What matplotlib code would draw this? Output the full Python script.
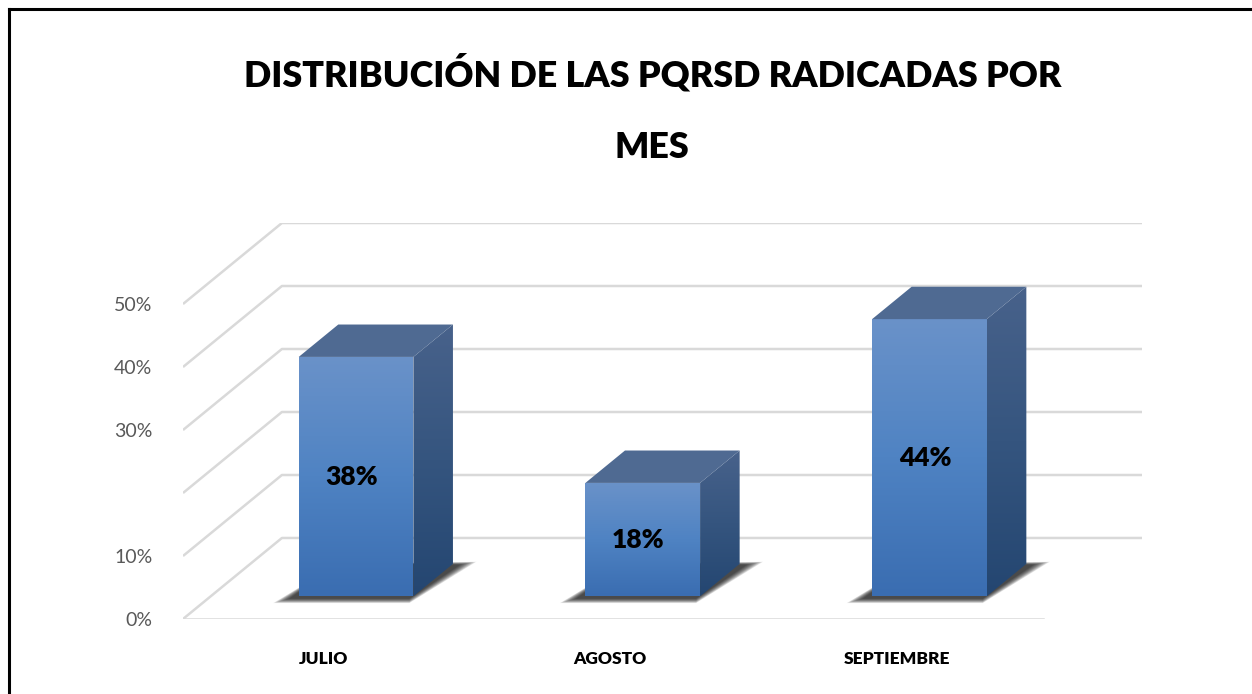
import matplotlib.pyplot as plt
import numpy as np
from matplotlib.patches import Polygon
from matplotlib.colors import LinearSegmentedColormap
from matplotlib.lines import Line2D

# datos del gráfico
categorias = ['JULIO', 'AGOSTO', 'SEPTIEMBRE']
valores = [38, 18, 44]
etiquetas = ['38%', '18%', '44%']
ticks_y = [0, 10, 20, 30, 40, 50]
ticks_y_txt = ['0%', '10%', '', '30%', '40%', '50%']

# perspectiva "3D" simulada (profundidad en unidades de datos)
DX = 0.345   # desplazamiento horizontal del fondo (en categorías)
DY = 12.86   # desplazamiento vertical del fondo (en %)
ANCHO = 0.40
D0, D1 = 0.28, 0.68   # profundidad de la cara frontal y trasera de la barra

plt.rcParams['font.family'] = ['Lato', 'DejaVu Sans']

fig = plt.figure(figsize=(12.52, 6.94), dpi=100)
ax = fig.add_axes([183 / 1252, 75 / 694, 959 / 1252, 396 / 694])

# rejilla: diagonal a la izquierda + línea en la pared del fondo
gris = '#d9d9d9'
for v in ticks_y:
    ax.plot([0, DX, 3 + DX], [v, v + DY, v + DY], color=gris, lw=1.8, zorder=1,
            solid_capstyle='butt')
ax.plot([0, 3], [0, 0], color=gris, lw=1.8, zorder=1)

cmap_frente = LinearSegmentedColormap.from_list('f', ['#3a6db1', '#4f83c3', '#6a92c9'])
cmap_lado = LinearSegmentedColormap.from_list('l', ['#244671', '#35557f', '#48628b'])
grad = np.linspace(0, 1, 256).reshape(-1, 1)

px_x = 3.345 / 959
px_y = (50 + DY) / 396

for i, v in enumerate(valores):
    xl = i + 0.5 - ANCHO / 2 + D0 * DX + 2 * px_x
    xr = xl + ANCHO
    yb = D0 * DY
    yt = v + D0 * DY
    bdx = (D1 - D0) * DX
    bdy = (D1 - D0) * DY

    # sombra difusa en el piso (capas superpuestas para simular desenfoque)
    n = 16
    for k in range(n):
        g = n - k
        sombra = [(xl - (8 + g * 1.1) * px_x, yb - (2 + g * 0.3) * px_y),
                  (xr - 4 * px_x, yb - (2 + g * 0.3) * px_y),
                  (xr + bdx + (6 + g * 1.1) * px_x, yb + bdy - (1 - g * 0.2) * px_y),
                  (xl + bdx, yb + bdy)]
        ax.add_patch(Polygon(sombra, closed=True, color='black', alpha=0.07,
                             lw=0, zorder=2))

    # cara frontal con degradado
    frente = Polygon([(xl, yb), (xr, yb), (xr, yt), (xl, yt)], closed=True,
                     facecolor='none', edgecolor='none', zorder=3)
    ax.add_patch(frente)
    im = ax.imshow(grad, cmap=cmap_frente, origin='lower', aspect='auto',
                   extent=[xl, xr, yb, yt], zorder=3)
    im.set_clip_path(frente)

    # cara lateral
    lado = Polygon([(xr, yb), (xr + bdx, yb + bdy), (xr + bdx, yt + bdy), (xr, yt)],
                   closed=True, facecolor='none', edgecolor='none', zorder=3)
    ax.add_patch(lado)
    im2 = ax.imshow(grad, cmap=cmap_lado, origin='lower', aspect='auto',
                    extent=[xr, xr + bdx, yb, yt + bdy], zorder=3)
    im2.set_clip_path(lado)

    # cara superior
    ax.add_patch(Polygon([(xl, yt), (xr, yt), (xr + bdx, yt + bdy), (xl + bdx, yt + bdy)],
                         closed=True, facecolor='#4f6a92', edgecolor='none', zorder=4))

    ax.text((xl + xr) / 2 - 0.015, (yb + yt) / 2, etiquetas[i], ha='center', va='center',
            fontsize=19, fontweight='heavy', color='black', zorder=5)

ax.set_xlim(0, 3 + DX)
ax.set_ylim(0, 50 + DY)
ax.set_yticks(ticks_y, ticks_y_txt)
ax.set_xticks([i + 0.49 for i in range(3)], categorias)
ax.tick_params(axis='y', length=0, pad=22, labelsize=14, labelcolor='#595959')
ax.tick_params(axis='x', length=0, pad=23, labelsize=12.5)
for lbl in ax.get_xticklabels():
    lbl.set_fontweight('heavy')
for s in ax.spines.values():
    s.set_visible(False)

# título
fig.text(0.521, 1 - 73 / 694, 'DISTRIBUCIÓN DE LAS PQRSD RADICADAS POR', ha='center',
         va='center', fontsize=25.8, fontweight='heavy')
fig.text(0.521, 1 - 147 / 694, 'MES', ha='center', va='center', fontsize=25.8,
         fontweight='heavy')

# marco del área del gráfico
fig.add_artist(Line2D([9 / 1252, 9 / 1252], [0, 1 - 9 / 694], color='black', lw=2.2,
                      transform=fig.transFigure))
fig.add_artist(Line2D([9 / 1252, 1], [1 - 9 / 694, 1 - 9 / 694], color='black', lw=2.2,
                      transform=fig.transFigure))

fig.savefig('out.png', dpi=100)
